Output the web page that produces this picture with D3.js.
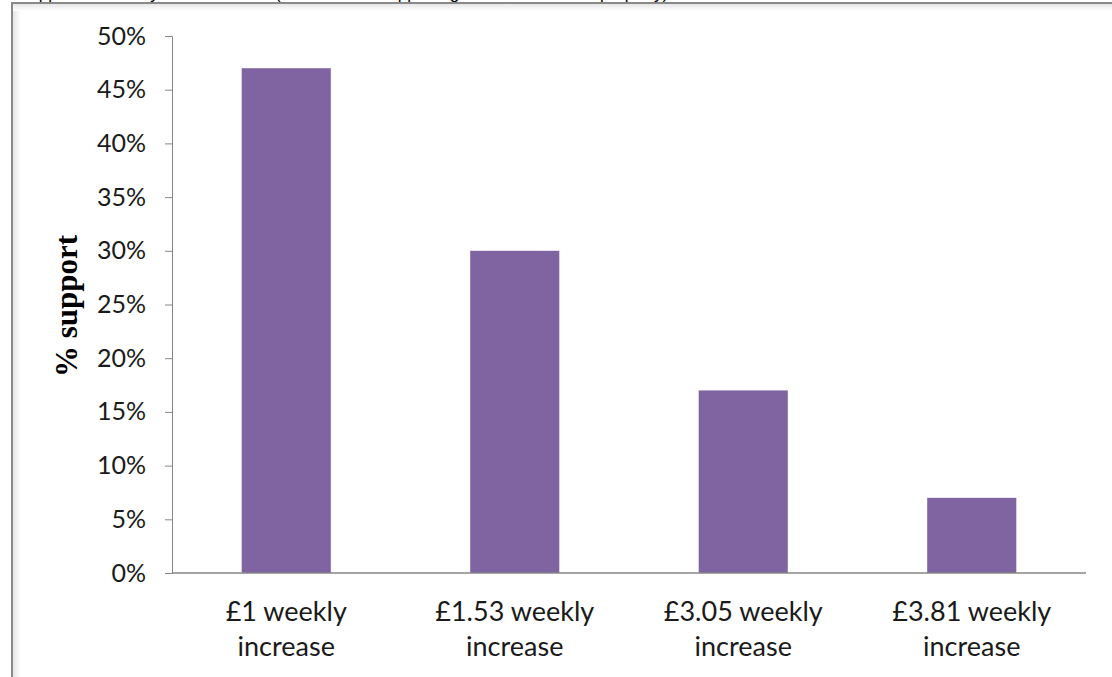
<!DOCTYPE html>
<html>
<head>
<meta charset="utf-8">
<script src="https://cdn.jsdelivr.net/npm/d3@7"></script>
<style>
  html, body { margin: 0; padding: 0; background: #fff; }
  svg { display: block; }
</style>
</head>
<body>
<svg id="chart" width="1112" height="677"></svg>
<script>
// Share of respondents supporting each weekly rent increase
const categories = ["£1 weekly increase", "£1.53 weekly increase", "£3.05 weekly increase", "£3.81 weekly increase"];
const support = [47, 30, 17, 7];
const yTicks = [0, 5, 10, 15, 20, 25, 30, 35, 40, 45, 50];
const yTitle = "% support";
const heading = "Support for weekly rent increases (% of tenants supporting each rise for their property)";

const svg = d3.select("#chart");
const W = 1112, H = 677;
const margin = { left: 172, right: 26, top: 36, bottom: 104 };
const labelFont = "'Lato', 'Open Sans', sans-serif";

// heading sits above the frame, mostly cropped by the page edge
svg.append("text")
  .attr("x", 18).attr("y", -1)
  .attr("font-family", "Arial, 'Liberation Sans', sans-serif")
  .attr("font-size", 17)
  .attr("fill", "#000")
  .text(heading);

// panel frame with soft inner shadow
const defs = svg.append("defs");
const gl = defs.append("linearGradient").attr("id", "shadeL").attr("x1", 0).attr("x2", 1);
gl.append("stop").attr("offset", 0).attr("stop-color", "#e6e6e6");
gl.append("stop").attr("offset", 1).attr("stop-color", "#ffffff");
const gt = defs.append("linearGradient").attr("id", "shadeT").attr("x1", 0).attr("x2", 0).attr("y1", 0).attr("y2", 1);
gt.append("stop").attr("offset", 0).attr("stop-color", "#e6e6e6");
gt.append("stop").attr("offset", 1).attr("stop-color", "#ffffff");
svg.append("rect").attr("x", 13).attr("y", 4).attr("width", 8).attr("height", H).attr("fill", "url(#shadeL)");
svg.append("rect").attr("x", 13).attr("y", 4).attr("width", W).attr("height", 7).attr("fill", "url(#shadeT)");
svg.append("line").attr("x1", 12).attr("x2", 12).attr("y1", 3).attr("y2", H)
  .attr("stroke", "#8a8a8a").attr("stroke-width", 2);
svg.append("line").attr("x1", 11).attr("x2", W).attr("y1", 3).attr("y2", 3)
  .attr("stroke", "#8a8a8a").attr("stroke-width", 2);

const x = d3.scaleBand()
  .domain(categories)
  .range([margin.left, W - margin.right])
  .paddingInner(0.61)
  .paddingOuter(0.305);

const y = d3.scaleLinear()
  .domain([0, 50])
  .range([H - margin.bottom, margin.top]);

// bars
svg.append("g").selectAll("rect")
  .data(categories)
  .join("rect")
  .attr("x", d => x(d))
  .attr("width", x.bandwidth())
  .attr("y", (d, i) => y(support[i]))
  .attr("height", (d, i) => y(0) - y(support[i]))
  .attr("fill", "#8064a2");

// y axis
const yAxis = svg.append("g")
  .attr("transform", `translate(${margin.left},0)`)
  .call(d3.axisLeft(y).tickValues(yTicks).tickFormat(d => d + "%").tickSizeOuter(0).tickSize(7).tickPadding(19));
yAxis.select(".domain").attr("stroke", "#868686");
yAxis.selectAll(".tick line").attr("stroke", "#868686");
yAxis.selectAll(".tick text")
  .attr("font-family", labelFont)
  .attr("font-size", 25)
  .attr("fill", "#1a1a1a");

// x axis baseline
svg.append("line")
  .attr("x1", margin.left).attr("x2", W - margin.right)
  .attr("y1", y(0)).attr("y2", y(0))
  .attr("stroke", "#868686").attr("stroke-width", 1.5);

// category labels on two lines
const xl = svg.append("g").selectAll("text")
  .data(categories)
  .join("text")
  .attr("x", d => x(d) + x.bandwidth() / 2)
  .attr("y", 621)
  .attr("text-anchor", "middle")
  .attr("font-family", labelFont)
  .attr("font-size", 27)
  .attr("fill", "#1a1a1a");
xl.each(function(d) {
  const parts = d.split(" ");
  const t = d3.select(this);
  t.append("tspan").attr("x", x(d) + x.bandwidth() / 2).text(parts.slice(0, 2).join(" "));
  t.append("tspan").attr("x", x(d) + x.bandwidth() / 2).attr("dy", 35).text(parts.slice(2).join(" "));
});

// axis title
svg.append("text")
  .attr("transform", "translate(77,306) rotate(-90)")
  .attr("text-anchor", "middle")
  .attr("font-family", "'Liberation Serif', 'Times New Roman', serif")
  .attr("font-weight", "bold")
  .attr("font-size", 31)
  .attr("fill", "#000")
  .text(yTitle);
</script>
</body>
</html>
